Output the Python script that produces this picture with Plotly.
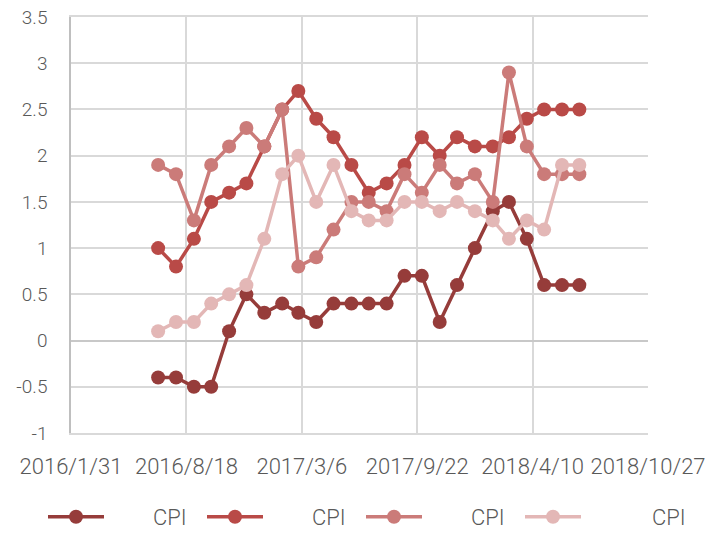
import plotly.graph_objects as go

dates = ["2016-06-30", "2016-07-31", "2016-08-31", "2016-09-30", "2016-10-31", "2016-11-30",
         "2016-12-31", "2017-01-31", "2017-02-28", "2017-03-31", "2017-04-30", "2017-05-31",
         "2017-06-30", "2017-07-31", "2017-08-31", "2017-09-30", "2017-10-31", "2017-11-30",
         "2017-12-31", "2018-01-31", "2018-02-28", "2018-03-31", "2018-04-30", "2018-05-31",
         "2018-06-30"]

series1 = [-0.4, -0.4, -0.5, -0.5, 0.1, 0.5, 0.3, 0.4, 0.3, 0.2, 0.4, 0.4, 0.4,
           0.4, 0.7, 0.7, 0.2, 0.6, 1.0, 1.4, 1.5, 1.1, 0.6, 0.6, 0.6]
series2 = [1.0, 0.8, 1.1, 1.5, 1.6, 1.7, 2.1, 2.5, 2.7, 2.4, 2.2, 1.9, 1.6,
           1.7, 1.9, 2.2, 2.0, 2.2, 2.1, 2.1, 2.2, 2.4, 2.5, 2.5, 2.5]
series3 = [1.9, 1.8, 1.3, 1.9, 2.1, 2.3, 2.1, 2.5, 0.8, 0.9, 1.2, 1.5, 1.5,
           1.4, 1.8, 1.6, 1.9, 1.7, 1.8, 1.5, 2.9, 2.1, 1.8, 1.8, 1.8]
series4 = [0.1, 0.2, 0.2, 0.4, 0.5, 0.6, 1.1, 1.8, 2.0, 1.5, 1.9, 1.4, 1.3,
           1.3, 1.5, 1.5, 1.4, 1.5, 1.4, 1.3, 1.1, 1.3, 1.2, 1.9, 1.9]

names = ["\u3000\u3000CPI", "\u3000\u3000CPI", "\u3000\u3000CPI", "\u3000\u3000\u3000CPI"]
colors = ["#963C3A", "#B94A47", "#CB7B79", "#E3B7B6"]

x_tickvals = ["2016-01-31", "2016-08-18", "2017-03-06", "2017-09-22", "2018-04-10", "2018-10-27"]
x_ticktext = ["2016/1/31", "2016/8/18", "2017/3/6", "2017/9/22", "2018/4/10", "2018/10/27"]
y_tickvals = [-1, -0.5, 0, 0.5, 1, 1.5, 2, 2.5, 3, 3.5]
y_ticktext = ["-1", "-0.5", "0", "0.5", "1", "1.5", "2", "2.5", "3", "3.5"]

fam = "Roboto, sans-serif"
big = dict(family=fam, size=22, color="#595959", weight=300)
small = dict(family=fam, size=19, color="#595959", weight=300)

fig = go.Figure()
legend_ids = ["legend", "legend2", "legend3", "legend4"]
for ys, nm, c, lg in zip([series1, series2, series3, series4], names, colors, legend_ids):
    fig.add_trace(go.Scatter(x=dates, y=ys, name=nm, mode="lines+markers",
                             line=dict(color=c, width=3.5),
                             marker=dict(color=c, size=14), legend=lg))

legend_layout = {}
for i, lg in enumerate(legend_ids):
    legend_layout[lg] = dict(orientation="h", xref="container", x=(43 + i * 159) / 719,
                             xanchor="left", yref="container", y=0.03, yanchor="middle",
                             font=big, itemwidth=56, bgcolor="rgba(0,0,0,0)")

fig.update_layout(
    width=719, height=533,
    margin=dict(l=71, r=71, t=17, b=100, autoexpand=False),
    paper_bgcolor="white", plot_bgcolor="white",
    font=small,
    showlegend=True,
    xaxis=dict(type="date", range=["2016-01-31", "2018-10-27"],
               tickvals=x_tickvals, ticktext=x_ticktext,
               showgrid=True, gridcolor="#D9D9D9", gridwidth=1.5,
               showline=True, linecolor="#D9D9D9", linewidth=1.5, mirror=True,
               ticks="", ticklabelstandoff=13, tickfont=big, zeroline=False),
    yaxis=dict(range=[-1, 3.5], tickvals=y_tickvals, ticktext=y_ticktext,
               showgrid=True, gridcolor="#D9D9D9", gridwidth=1.5,
               showline=True, linecolor="#BFBFBF", linewidth=1.5,
               zeroline=True, zerolinecolor="#C8C8C8", zerolinewidth=1.5,
               ticks="", ticklabelstandoff=18, tickfont=small),
    **legend_layout,
)

fig.write_html("out.html", config={"displayModeBar": False},
               post_script="document.body.style.margin='0';")
